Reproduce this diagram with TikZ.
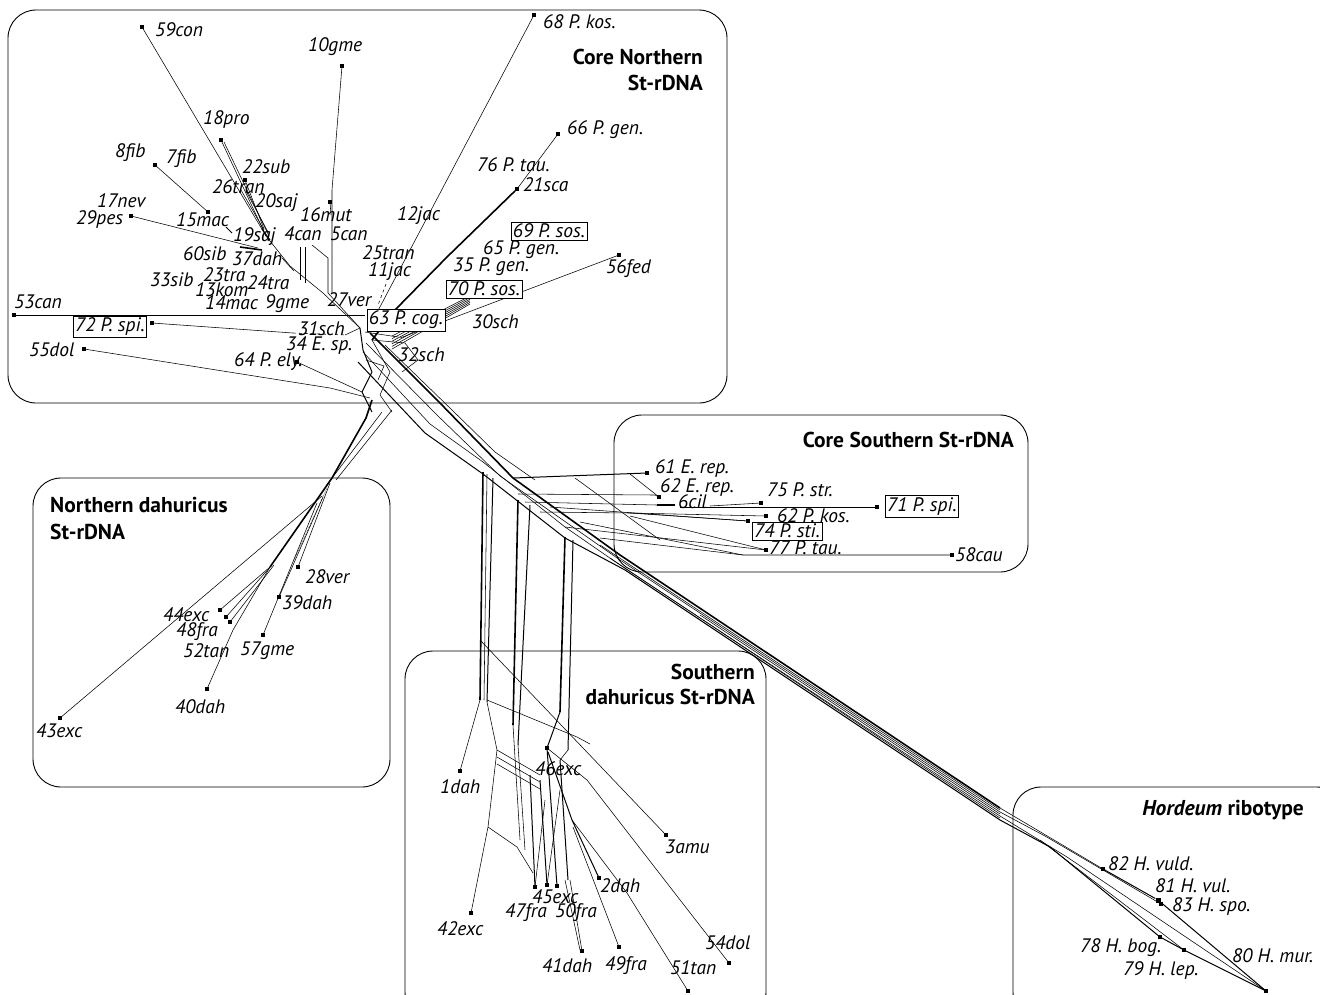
\documentclass[tikz,border=0pt]{standalone}
\usepackage{fontspec}
\setmainfont{PT Sans}
\newcommand{\labfont}{\fontsize{19.5}{21}\selectfont\itshape}
\newcommand{\ttlfont}{\fontsize{21.5}{24}\selectfont\bfseries}
\tikzset{
 net/.style={line width=0.55pt, line join=round},
 netm/.style={line width=1pt, line join=round},
 netb/.style={line width=1.6pt, line join=round},
 tipdot/.style={rectangle, fill=black, inner sep=0pt, minimum size=3.4pt},
 lab/.style={font=\labfont, inner sep=0pt, anchor=west},
 boxlab/.style={font=\labfont, draw, fill=white, line width=0.8pt, inner sep=2pt},
 region/.style={draw, line width=0.9pt, rounded corners=28pt},
 ttl/.style={font=\ttlfont, inner sep=0pt},
}
\begin{document}
\begin{tikzpicture}[x=1pt,y=-1pt]
\useasboundingbox (0,0) rectangle (1320,994);
\clip (0,0) rectangle (1320,994);
% ---------------- regions
\draw[region] (8,10) rectangle (727,403);
\draw[region] (614,415) rectangle (1028,572);
\draw[region] (33,478) rectangle (390,787);
\draw[region] (405,651) rectangle (766,1020);
\draw[region] (1013,787) rectangle (1345,1020);
\node[ttl, anchor=east] (ttlA) at (703,57) {Core Northern};
\node[ttl, anchor=east] (ttlA2) at (703,83) {St-rDNA};
\node[ttl, anchor=east] (ttlB) at (1014,440) {Core Southern St-rDNA};
\node[ttl, anchor=west] (ttlC) at (50,505) {Northern dahuricus};
\node[ttl, anchor=west] (ttlC2) at (50,532) {St-rDNA};
\node[ttl, anchor=east] (ttlD) at (755,672) {Southern};
\node[ttl, anchor=east] (ttlD2) at (755,697) {dahuricus St-rDNA};
\node[ttl, anchor=east] (ttlE) at (1304,810) {\textit{Hordeum} ribotype};
% ---------------- tips (core northern)
\node[tipdot] (t59) at (142,27) {};
\node[tipdot] (t10) at (342,66) {};
\node[tipdot] (t68) at (534,15) {};
\node[tipdot] (t66) at (558,134) {};
\node[tipdot] (t21) at (517,189) {};
\node[tipdot] (t56) at (619,255) {};
\node[tipdot] (t8) at (155,165) {};
\node[tipdot] (t15) at (208,212) {};
\node[tipdot] (t29) at (131,216) {};
\node[tipdot] (t22) at (245,180) {};
\node[tipdot] (t18) at (221,140) {};
\node[tipdot] (t16) at (330,202) {};
\node[tipdot] (t53) at (14,315) {};
\node[tipdot] (t72) at (152,323) {};
\node[tipdot] (t55) at (84,349) {};
\node[tipdot] (t64) at (297,362) {};
\coordinate (j19) at (266,236);
\coordinate (j37) at (290,266);
\coordinate (j24) at (323,293);
\coordinate (hub) at (360,328);
\coordinate (hubb) at (372,340);
% spokes
\draw[net] (t59) -- (j19);
\draw[net] (t18) -- (j19);
\draw[net] (224,142) -- (269,236);
\draw[net] (t22) -- (264,229);
\draw[net] (241,190) -- (264,230);
\draw[net] (246,191) -- (268,232);
\draw[net] (t8) -- (t15);
\draw[netm] (226,227) -- (232,233);
\draw[net] (t29) -- (258,248);
\draw[netb] (240,247) -- (262,250);
\draw[netm] (262,229) -- (270,240);
\draw[net] (j19) -- (j37) -- (j24) -- (hub);
\draw[net] (282,258) -- (294,271);
\draw[net] (300,247) -- (300,280);
\draw[net] (305,247) -- (305,283);
\draw[net] (312,245) -- (328,258) -- (328,293) -- (hub);
\draw[net] (t10) -- (332,190) -- (332,293);
\draw[net] (t16) -- (331,215);
\draw[net] (t68) -- (372,322);
\draw[net, dashed] (386,284) -- (378,305);
\draw[net] (t66) -- (t21);
\draw[netb] (t21) -- (447,257) -- (395,310) -- (hubb);
\draw[net] (t56) -- (400,338);
\foreach \i in {0,...,5}{\draw[net] (470,296+1.6*\i) -- (392,336+2.6*\i);}
\draw[net] (t53) -- (365,315);
\draw[net] (t72) -- (293,333);
\draw[net, dashed] (293,333) -- (345,335);
\draw[net] (345,335) -- (hub);
\draw[net] (t55) -- (330,388) -- (370,398);
\draw[net] (t64) -- (362,392);
% hub mesh
\draw[netm] (hub) -- (363,350) -- (372,372) -- (362,392) -- (372,412);
\draw[net] (hubb) -- (390,372) -- (380,395) -- (392,412);
\draw[net] (372,340) -- (405,343) -- (418,360) -- (402,372);
\draw[net] (365,332) -- (398,337);
\draw[net] (366,360) -- (384,366) -- (378,380);
% ---------------- trunk
\draw[netb] (370,333) -- (440,403) -- (513,478) -- (620,555) -- (1000,808);
\draw[net] (366,343) -- (437,415) -- (500,476) -- (620,560) -- (1000,812);
\draw[net] (363,352) -- (430,424) -- (483,462) -- (565,527) -- (620,565) -- (1000,816);
\draw[netm] (358,362) -- (425,433) -- (483,474) -- (565,538) -- (625,570) -- (1000,820);
\draw[net] (385,345) -- (452,410) -- (495,452) -- (535,480);
\draw[net] (600,545) -- (1000,810);
\draw[net] (610,558) -- (1000,818);
\draw[net] (700,615) -- (1000,814);
% ---------------- Hordeum
\node[tipdot] (t82) at (1103,869) {};
\node[tipdot, minimum size=5pt] (t81) at (1158,900) {};
\node[tipdot] (t83) at (1161,904) {};
\node[tipdot] (t78) at (1160,937) {};
\node[tipdot] (t79) at (1184,950) {};
\node[tipdot] (t80) at (1266,991) {};
\draw[net] (1000,808) -- (t82);
\draw[netm] (t82) -- (t81) -- (t80);
\draw[net] (1000,812) -- (1045,836) -- (t83);
\draw[net] (1000,816) -- (1067,857) -- (t80);
\draw[netm] (1000,820) -- (1050,847) -- (t78) -- (t79) -- (t80);
\draw[net] (1040,840) -- (t79);
% ---------------- Core southern
\node[tipdot] (t61) at (647,473) {};
\node[tipdot] (t62e) at (659,497) {};
\node[tipdot] (t71) at (877,507) {};
\node[tipdot] (t75) at (761,503) {};
\node[tipdot] (t62k) at (766,516) {};
\node[tipdot] (t74) at (748,521) {};
\node[tipdot] (t77) at (766,550) {};
\node[tipdot] (t58) at (952,555) {};
\draw[netm] (513,478) -- (t61);
\draw[net] (518,494) -- (655,495) -- (t62e);
\draw[net] (630,474) -- (t62e);
\draw[net] (525,502) -- (657,505);
\draw[netb] (657,505) -- (675,505);
\draw[net] (680,507) -- (t71);
\draw[net] (710,506) -- (t75);
\draw[net] (540,512) -- (630,513) -- (t62k);
\draw[net] (550,507) -- (t74);
\draw[net] (630,513) -- (t74);
\draw[net] (565,527) -- (t77);
\draw[net] (630,516) -- (t77);
\draw[net] (600,538) -- (743,555) -- (t58);
\draw[net] (580,522) -- (743,555);
\draw[net] (575,478) -- (660,540);
% ---------------- Northern dahuricus
\node[tipdot] (t43) at (60,718) {};
\node[tipdot] (t44) at (220,610) {};
\node[tipdot] (t48) at (226,617) {};
\node[tipdot] (t48b) at (230,622) {};
\node[tipdot] (t40) at (207,689) {};
\node[tipdot] (t57) at (263,635) {};
\node[tipdot] (t39) at (279,597) {};
\node[tipdot] (t28) at (298,567) {};
\coordinate (nd) at (270,567);
\draw[netb] (372,400) -- (366,418) -- (332,478) -- (nd);
\draw[net] (392,410) -- (336,480);
\draw[net] (382,412) -- (326,486);
\draw[net] (322,496) -- (t43);
\draw[net] (nd) -- (t44);
\draw[net] (272,565) -- (t48);
\draw[net] (274,565) -- (t48b);
\draw[net] (nd) -- (233,630) -- (t40);
\draw[net] (317,503) -- (t57);
\draw[net] (323,497) -- (t39);
\draw[net] (330,483) -- (t28);
\draw[net, densely dotted] (327,488) -- (294,560);
% ---------------- Southern dahuricus
\draw[netb] (483,472) -- (480,700);
\draw[net] (487,474) -- (484,700);
\draw[netm] (493,478) -- (487,702);
\draw[netb] (518,500) -- (513,725);
\draw[netm] (530,505) -- (518,745);
\draw[netb] (565,537) -- (560,712);
\draw[netm] (573,540) -- (568,750);
\node[tipdot] (t1) at (460,771) {};
\node[tipdot] (t42) at (471,913) {};
\node[tipdot] (t3) at (666,835) {};
\node[tipdot] (t46) at (547,748) {};
\node[tipdot] (t45a) at (535,887) {};
\node[tipdot] (t45b) at (547,885) {};
\node[tipdot] (t45c) at (557,886) {};
\node[tipdot] (t2) at (599,878) {};
\node[tipdot] (t41) at (582,951) {};
\node[tipdot] (t49) at (619,947) {};
\node[tipdot] (t51) at (688,991) {};
\node[tipdot] (t54) at (729,963) {};
\draw[net] (480,700) -- (t1);
\draw[net] (487,702) -- (497,750) -- (488,827) -- (t42);
\draw[net] (480,640) -- (t3);
\draw[net] (487,700) -- (577,737) -- (590,744);
\draw[net] (497,750) -- (540,775);
\draw[net] (497,757) -- (540,782);
\draw[net] (497,764) -- (540,789);
\draw[net] (488,827) -- (517,847) -- (533,873);
\draw[net] (513,725) -- (520,840);
\draw[net] (518,745) -- (525,850);
\draw[netm] (560,712) -- (t46);
\draw[net] (568,750) -- (560,760);
\draw[netm] (530,775) -- (t45a);
\draw[netm] (540,780) -- (t45b);
\draw[netm] (t46) -- (t45c);
\draw[netm] (560,760) -- (568,880);
\draw[net] (545,800) -- (t45a);
\draw[net] (560,790) -- (t45b);
\draw[net] (t46) -- (587,780) -- (t54);
\draw[netm] (548,752) -- (572,820) -- (t2);
\draw[net] (572,820) -- (627,893) -- (t51);
\draw[net] (573,827) -- (t49);
\draw[net] (565,880) -- (580,950);
\draw[net] (570,880) -- (t41);
% ---------------- labels
\node[lab] (l59) at (155,30) {59con};
\node[lab] (l10) at (308,47) {10gme};
\node[lab] (l68) at (543,22) {68 P. kos.};
\node[lab] (l66) at (567,130) {66 P. gen.};
\node[lab] (l76) at (477,165) {76 P. tau.};
\node[lab] (l21) at (523,185) {21sca};
\node[lab] (l18) at (203,120) {18pro};
\node[lab] (l8) at (115,153) {8fib};
\node[lab] (l7) at (166,159) {7fib};
\node[lab] (l22) at (242,167) {22sub};
\node[lab] (l26) at (212,187) {26tran};
\node[lab] (l20) at (255,203) {20saj};
\node[lab] (l16) at (300,215) {16mut};
\node[lab] (l12) at (397,216) {12jac};
\node[lab] (l17) at (97,201) {17nev};
\node[lab] (l29) at (76,220) {29pes};
\node[lab] (l15) at (176,220) {15mac};
\node[lab] (l19) at (233,237) {19saj};
\node[lab] (l4) at (284,234) {4can};
\node[lab] (l5) at (330,234) {5can};
\node[lab] (l25) at (362,253) {25tran};
\node[lab] (l65) at (483,250) {65 P. gen.};
\node[lab] (l35) at (453,267) {35 P. gen.};
\node[lab] (l56) at (606,269) {56fed};
\node[lab] (l60) at (183,254) {60sib};
\node[lab] (l37) at (232,259) {37dah};
\node[lab] (l11) at (368,272) {11jac};
\node[lab] (l23) at (203,275) {23tra};
\node[lab] (l24) at (247,283) {24tra};
\node[lab] (l33) at (150,280) {33sib};
\node[lab] (l13) at (195,290) {13kom};
\node[lab] (l27) at (327,300) {27ver};
\node[lab] (l14) at (205,303) {14mac};
\node[lab] (l9) at (265,304) {9gme};
\node[lab] (l53) at (14,302) {53can};
\node[lab] (l30) at (472,322) {30sch};
\node[lab] (l31) at (298,329) {31sch};
\node[lab] (l34) at (286,346) {34 E. sp.};
\node[lab] (l32) at (398,355) {32sch};
\node[lab] (l55) at (29,350) {55dol};
\node[lab] (l64) at (234,362) {64 P. ely.};
\node[boxlab] (b69) at (549,231) {69 P. sos.};
\node[boxlab] (b70) at (484,289) {70 P. sos.};
\node[boxlab] (b63) at (406,320) {63 P. cog.};
\node[boxlab] (b72) at (110,327) {72 P. spi.};
\node[lab] (l61) at (655,468) {61 E. rep.};
\node[lab] (l62e) at (660,487) {62 E. rep.};
\node[lab] (l6) at (678,502) {6cil};
\node[lab] (l75) at (767,490) {75 P. str.};
\node[lab] (l62k) at (777,516) {62 P. kos.};
\node[lab] (l77) at (769,548) {77 P. tau.};
\node[lab] (l58) at (955,555) {58cau};
\node[boxlab] (b71) at (922,506) {71 P. spi.};
\node[boxlab] (b74) at (787,531) {74 P. sti.};
\node[lab] (l28) at (305,577) {28ver};
\node[lab] (l39) at (282,603) {39dah};
\node[lab] (l44) at (163,615) {44exc};
\node[lab] (l48) at (176,632) {48fra};
\node[lab] (l52) at (183,651) {52tan};
\node[lab] (l57) at (240,651) {57gme};
\node[lab] (l40) at (175,707) {40dah};
\node[lab] (l43) at (36,731) {43exc};
\node[lab] (l1) at (440,787) {1dah};
\node[lab] (l46) at (535,769) {46exc};
\node[lab] (l3) at (665,847) {3amu};
\node[lab] (l45) at (532,897) {45exc};
\node[lab] (l2) at (600,886) {2dah};
\node[lab] (l42) at (437,929) {42exc};
\node[lab] (l47) at (505,913) {47fra};
\node[lab] (l50) at (555,913) {50fra};
\node[lab] (l54) at (705,943) {54dol};
\node[lab] (l41) at (542,966) {41dah};
\node[lab] (l49) at (605,966) {49fra};
\node[lab] (l51) at (670,968) {51tan};
\node[lab] (l82) at (1108,864) {82 H. vuld.};
\node[lab] (l81) at (1155,886) {81 H. vul.};
\node[lab] (l83) at (1172,906) {83 H. spo.};
\node[lab] (l78) at (1080,948) {78 H. bog.};
\node[lab] (l79) at (1123,970) {79 H. lep.};
\node[lab] (l80) at (1232,956) {80 H. mur.};
\end{tikzpicture}
\end{document}
